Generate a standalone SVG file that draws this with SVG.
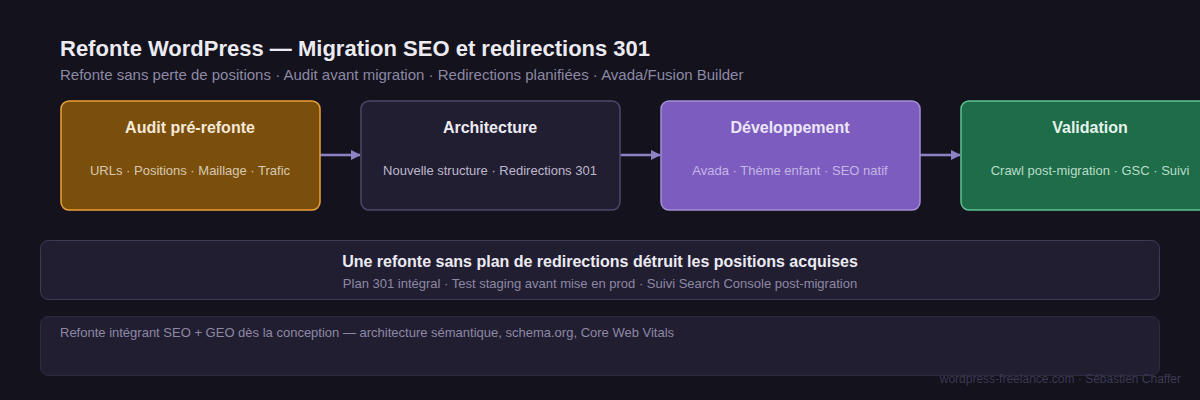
<svg xmlns="http://www.w3.org/2000/svg" width="1200" height="400" viewBox="0 0 1200 400">
<defs>
<marker id="arr" markerWidth="10" markerHeight="10" refX="9" refY="5" orient="auto" markerUnits="userSpaceOnUse"><path d="M0,0 L10,5 L0,10 z" fill="#8d82c4"/></marker>
<style>
text{font-family:"Liberation Sans",Arial,sans-serif}
.t{font-size:16px;font-weight:bold;text-anchor:middle}
.s{font-size:13px;text-anchor:middle}
.c{stroke:#8d82c4;stroke-width:2.5;fill:none}
</style>
</defs>
<rect width="1200" height="400" fill="#13121d"/>
<text x="60" y="56" font-size="22" font-weight="bold" fill="#ecebf2">Refonte WordPress — Migration SEO et redirections 301</text>
<text x="60" y="80" font-size="15" fill="#8d89a3">Refonte sans perte de positions · Audit avant migration · Redirections planifiées · Avada/Fusion Builder</text>
<g id="connectors">
<line class="c" x1="320" y1="155" x2="360" y2="155" marker-end="url(#arr)"/>
<line class="c" x1="620" y1="155" x2="660" y2="155" marker-end="url(#arr)"/>
<line class="c" x1="920" y1="155" x2="960" y2="155" marker-end="url(#arr)"/>
</g>
<g id="n1">
<rect x="61" y="101" width="259" height="109" rx="8" fill="#7a4f0b" stroke="#eea23a" stroke-width="1.5"/>
<text class="t" x="190" y="133" fill="#f5e9d8">Audit pré-refonte</text>
<text class="s" x="190" y="175" fill="#d8c9b2">URLs · Positions · Maillage · Trafic</text>
</g>
<g id="n2">
<rect x="361" y="101" width="259" height="109" rx="8" fill="#221e32" stroke="#4d4868" stroke-width="1.5"/>
<text class="t" x="490" y="133" fill="#ecebf2">Architecture</text>
<text class="s" x="490" y="175" fill="#bdb9cc">Nouvelle structure · Redirections 301</text>
</g>
<g id="n3">
<rect x="661" y="101" width="259" height="109" rx="8" fill="#7c5cbf" stroke="#a390d8" stroke-width="1.5"/>
<text class="t" x="790" y="133" fill="#ece6f8">Développement</text>
<text class="s" x="790" y="175" fill="#c4b6e6">Avada · Thème enfant · SEO natif</text>
</g>
<g id="n4">
<rect x="961" y="101" width="259" height="109" rx="8" fill="#1e6c48" stroke="#5ec495" stroke-width="1.5"/>
<text class="t" x="1090" y="133" fill="#e4f3ea">Validation</text>
<text class="s" x="1090" y="175" fill="#b8dcc8">Crawl post-migration · GSC · Suivi</text>
</g>
<g id="banner">
<rect x="40.5" y="240.5" width="1119" height="59" rx="8" fill="#221e32" stroke="#3e3a55" stroke-width="1"/>
<text x="600" y="267" font-size="16" font-weight="bold" text-anchor="middle" fill="#ecebf2">Une refonte sans plan de redirections détruit les positions acquises</text>
<text x="600" y="288" font-size="13" text-anchor="middle" fill="#8d89a3">Plan 301 intégral · Test staging avant mise en prod · Suivi Search Console post-migration</text>
</g>
<g id="note">
<rect x="40.5" y="316.5" width="1119" height="59" rx="8" fill="#221e32" stroke="#2e2a42" stroke-width="1"/>
<text x="60" y="337" font-size="13" fill="#8d89a3">Refonte intégrant SEO + GEO dès la conception — architecture sémantique, schema.org, Core Web Vitals</text>
</g>
<text x="1181" y="383" font-size="12" text-anchor="end" fill="#3d3953">wordpress-freelance.com · Sébastien Chaffer</text>
</svg>
